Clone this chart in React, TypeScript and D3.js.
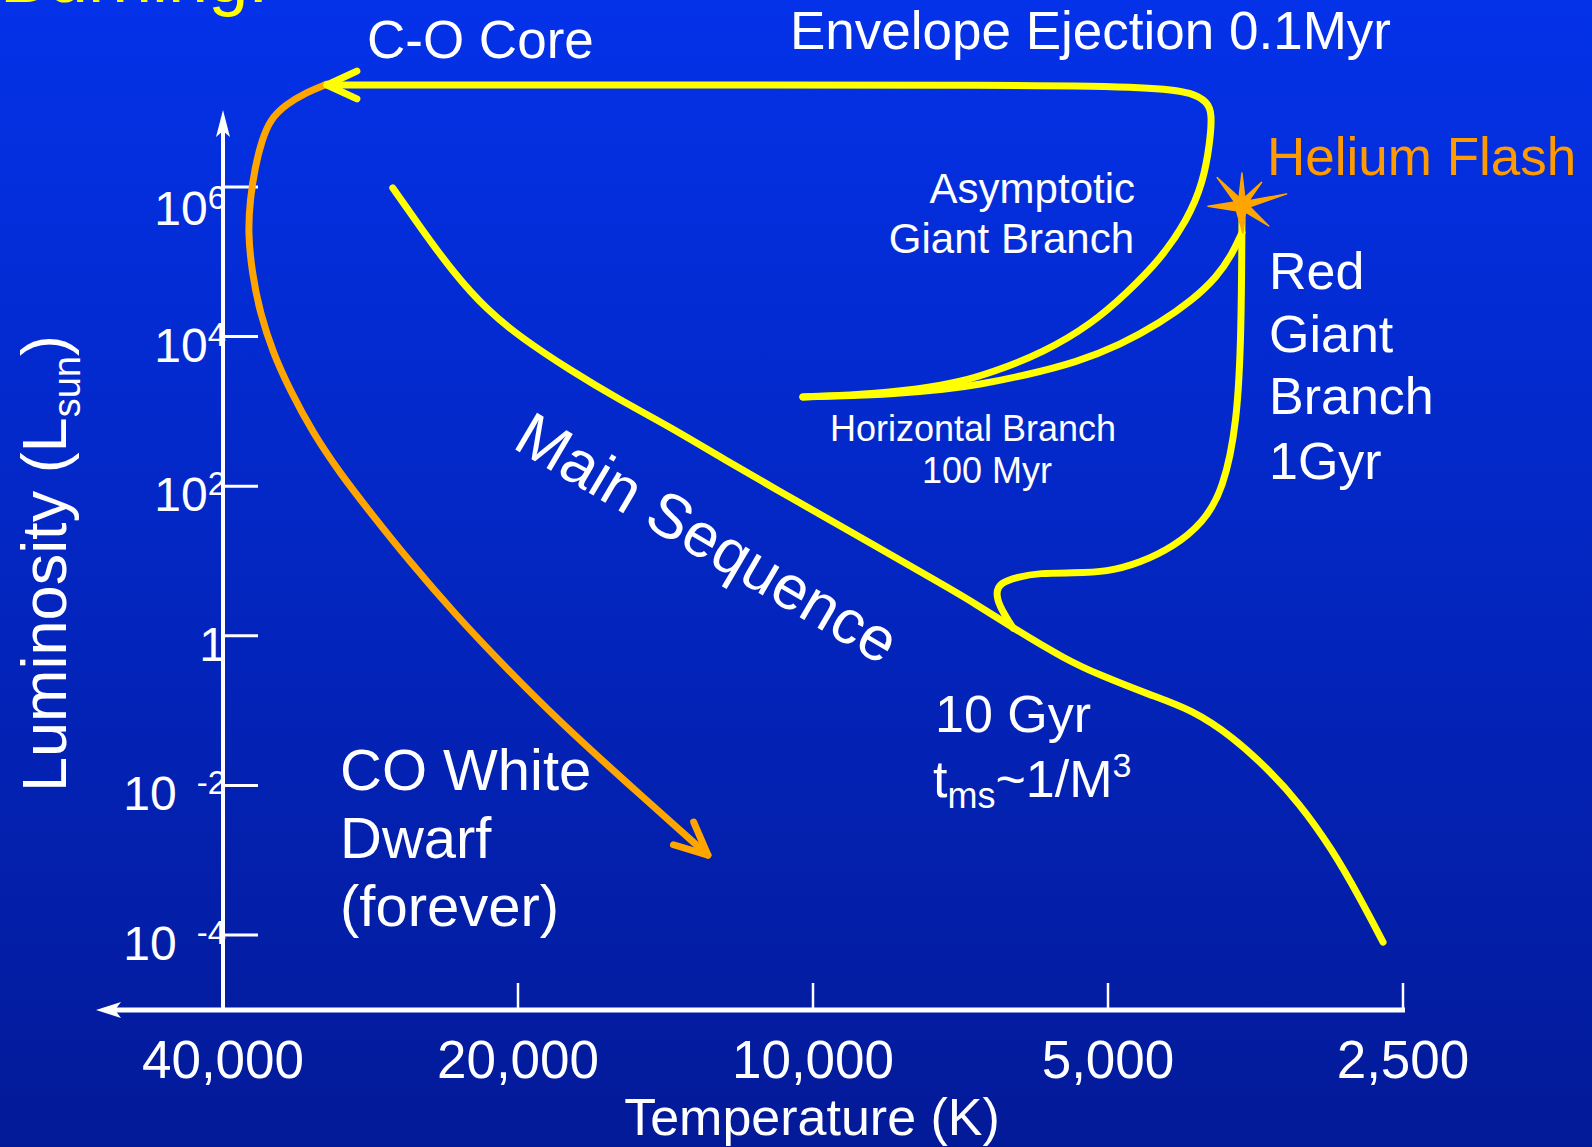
import * as d3 from 'd3';

const W = 1592;
const H = 1147;

// temperature axis (K), hot on the left
const tempTicks  = [40000, 20000, 10000, 5000, 2500];
const tempLabels = ['40,000', '20,000', '10,000', '5,000', '2,500'];

// luminosity axis (L_sun)
const lumTicks = [1e6, 1e4, 1e2, 1, 1e-2, 1e-4];
const lumBase  = ['10', '10', '10', '1', '10', '10'];
const lumExp   = ['6', '4', '2', '', '-2', '-4'];

// main sequence
const msTemp = [26840, 25170, 23270, 21510, 19900, 17710, 15740, 13990, 12440, 10310, 8740, 7420,
  6870, 6250, 5510, 5100, 4530, 4100, 3730, 3450, 3190, 2950, 2770, 2620];
const msLum = [9.7e5, 2.92e5, 7.08e4, 2.27e4, 9890, 3570, 1420, 618, 245, 59.6, 17.4, 5.08,
  2.83, 1.27, 0.474, 0.299, 0.162, 0.102, 0.0444, 0.0176, 0.00582, 0.00137, 3.22e-4, 8.05e-5];

// turn-off hook + red giant branch up to the helium flash
const rgbTemp = [6250, 6325, 6445, 6510, 6445, 6190, 5870, 5430, 5010, 4640, 4290, 4000, 3815, 3690, 3655, 3650];
const rgbLum  = [1.27, 1.63, 2.43, 3.73, 5.08, 6.11, 6.92, 6.92, 7.13, 9.4, 15.4, 32.2, 89, 700, 1.22e4, 3.62e5];

// helium flash -> horizontal branch
const hbTemp = [3650, 3730, 3870, 4100, 4425, 4860, 5375, 6050, 6805, 7300, 8290, 9320, 10240];
const hbLum  = [2.43e5, 1.31e5, 6.26e4, 3.08e4, 1.52e4, 7730, 4570, 3070, 2250, 1990, 1710, 1610, 1560];

// asymptotic giant branch + envelope ejection
const agbTemp = [10240, 8960, 7775, 7080, 6550, 5825, 5180, 4785, 4425, 4150, 4000, 3935, 3915, 3960,
  4100, 4425, 6445, 13040, 31330];
const agbLum = [1560, 1660, 1990, 2470, 3365, 6040, 1.52e4, 3.83e4, 1.06e5, 3.62e5, 1.13e6, 3.87e6,
  9.75e6, 1.37e7, 1.81e7, 2.17e7, 2.31e7, 2.31e7, 2.31e7];

// C-O core -> white dwarf cooling
const wdTemp = [31330, 32840, 34580, 35820, 36500, 37100, 37540, 37720, 37360, 36670, 35560, 34180,
  32380, 30390, 28320, 25780, 23190, 20620, 18120, 15480, 12800];
const wdLum = [2.38e7, 1.86e7, 1.25e7, 7.87e6, 4.25e6, 1.85e6, 6.7e5, 2.43e5, 7.08e4, 2.07e4, 6040, 1930,
  514, 150, 45.2, 9.7, 1.95, 0.383, 0.0705, 0.01076, 0.00117];

// helium flash location
const flashTemp = 3650;
const flashLum  = 5.74e5;

const FONT = 'Liberation Sans, Arial, Helvetica, sans-serif';
const YELLOW = '#ffff00';
const ORANGE = '#ffa500';

export default function App() {
  const x = d3.scaleLog().domain([40000, 2500]).range([223, 1403]);
  const y = d3.scaleLog().domain([1e-4, 1e6]).range([935, 187]);

  const line = d3.line<[number, number]>()
    .x(d => x(d[0]))
    .y(d => y(d[1]))
    .curve(d3.curveBasis);

  const pts = (t: number[], l: number[]) => t.map((v, i) => [v, l[i]] as [number, number]);

  const arrowHead = (t: number[], l: number[], len: number, spread: number) => {
    const n = t.length;
    const x1 = x(t[n - 1]), y1 = y(l[n - 1]);
    const x0 = x(t[n - 2]), y0 = y(l[n - 2]);
    const a = Math.atan2(y1 - y0, x1 - x0);
    const s = (spread * Math.PI) / 180;
    return `M${x1 - len * Math.cos(a - s)},${y1 - len * Math.sin(a - s)}L${x1},${y1}` +
      `L${x1 - len * Math.cos(a + s)},${y1 - len * Math.sin(a + s)}`;
  };

  // irregular star for the flash
  const sx = x(flashTemp), sy = y(flashLum);
  const rays: [number, number][] = [[-132, 37], [-90, 32], [-49, 30], [-14, 46], [38, 34], [88, 28], [178, 34]];
  const starPts: [number, number][] = [];
  rays.forEach((r, i) => {
    const next = rays[(i + 1) % rays.length];
    let a2 = next[0];
    if (a2 < r[0]) a2 += 360;
    const mid = (r[0] + a2) / 2;
    starPts.push([sx + r[1] * Math.cos((r[0] * Math.PI) / 180), sy + r[1] * Math.sin((r[0] * Math.PI) / 180)]);
    starPts.push([sx + 8 * Math.cos((mid * Math.PI) / 180), sy + 8 * Math.sin((mid * Math.PI) / 180)]);
  });
  const star = d3.line().curve(d3.curveLinearClosed)(starPts) ?? '';

  const axisY = x(40000);
  const axisX = 1010;

  return (
    <svg width={W} height={H} style={{ position: 'absolute', left: 0, top: 0, display: 'block' }}
      fontFamily={FONT}>
      <defs>
        <linearGradient id="bg" x1="0" y1="0" x2="0" y2="1">
          <stop offset="0" stopColor="#0432e9" />
          <stop offset="1" stopColor="#031a98" />
        </linearGradient>
      </defs>
      <rect width={W} height={H} fill="url(#bg)" />

      <text x={0} y={2} fontSize={72} fill={YELLOW}>Burning:</text>

      {/* axes */}
      <line x1={axisY} y1={axisX} x2={axisY} y2={128} stroke="#fff" strokeWidth={4} />
      <path d={`M${axisY},110L${axisY - 7},137L${axisY},131L${axisY + 7},137Z`} fill="#fff" />
      <line x1={1405} y1={axisX} x2={112} y2={axisX} stroke="#fff" strokeWidth={5} />
      <path d={`M96,${axisX}L121,${axisX - 8}L115,${axisX}L121,${axisX + 8}Z`} fill="#fff" />

      {tempTicks.map((t, i) => (
        <g key={t}>
          <line x1={x(t)} x2={x(t)} y1={983} y2={axisX} stroke="#fff" strokeWidth={2.5} />
          <text x={x(t)} y={1078} fontSize={53} fill="#fff" textAnchor="middle">{tempLabels[i]}</text>
        </g>
      ))}
      <text x={812} y={1135} fontSize={52} fill="#fff" textAnchor="middle">Temperature (K)</text>

      {lumTicks.map((l, i) => (
        <g key={l}>
          <line x1={axisY} x2={258} y1={y(l)} y2={y(l)} stroke="#fff" strokeWidth={3} />
          <text x={226} y={y(l) + (i === 0 ? 38 : 25)} fontSize={48} fill="#fff" textAnchor="end">
            {lumBase[i]}
            {lumExp[i] && (
              <tspan fontSize={33} dy={-16} dx={lumExp[i].startsWith('-') ? 20 : 0}>{lumExp[i]}</tspan>
            )}
          </text>
        </g>
      ))}

      <text transform="translate(66,792) rotate(-90)" fontSize={63} fill="#fff">
        Luminosity (L<tspan fontSize={38} dy={14}>sun</tspan><tspan dy={-14}>)</tspan>
      </text>

      {/* tracks */}
      <g fill="none" strokeLinecap="round" strokeLinejoin="round" strokeWidth={7}>
        <path d={line(pts(wdTemp, wdLum)) ?? ''} stroke={ORANGE} />
        <path d={arrowHead(wdTemp, wdLum, 36, 25)} stroke={ORANGE} />
        <path d={line(pts(msTemp, msLum)) ?? ''} stroke={YELLOW} />
        <path d={line(pts(rgbTemp, rgbLum)) ?? ''} stroke={YELLOW} />
        <path d={line(pts(hbTemp, hbLum)) ?? ''} stroke={YELLOW} />
        <path d={line(pts(agbTemp, agbLum)) ?? ''} stroke={YELLOW} />
        <path d={arrowHead(agbTemp, agbLum, 33, 25)} stroke={YELLOW} />
      </g>
      <path d={star} fill={ORANGE} stroke={ORANGE} strokeWidth={1.5} strokeLinejoin="round" />

      {/* labels */}
      <g fill="#fff">
        <text x={367} y={58} fontSize={53}>C-O Core</text>
        <text x={790} y={49} fontSize={53}>Envelope Ejection 0.1Myr</text>
        <text x={1135} y={203} fontSize={42} textAnchor="end">Asymptotic</text>
        <text x={1134} y={253} fontSize={42} textAnchor="end">Giant Branch</text>
        <text x={1269} y={289} fontSize={52}>Red</text>
        <text x={1269} y={352} fontSize={52}>Giant</text>
        <text x={1269} y={414} fontSize={52}>Branch</text>
        <text x={1269} y={479} fontSize={52}>1Gyr</text>
        <text x={973} y={441} fontSize={36} textAnchor="middle">Horizontal Branch</text>
        <text x={987} y={483} fontSize={36} textAnchor="middle">100 Myr</text>
        <text transform="translate(511,447) rotate(30.5)" fontSize={62}>Main Sequence</text>
        <text x={935} y={732} fontSize={52}>10 Gyr</text>
        <text x={933} y={797} fontSize={52}>
          t<tspan fontSize={36} dy={11}>ms</tspan><tspan dy={-11}>~1/M</tspan><tspan fontSize={34} dy={-20}>3</tspan>
        </text>
        <text x={340} y={790} fontSize={58}>CO White</text>
        <text x={340} y={858} fontSize={58}>Dwarf</text>
        <text x={340} y={926} fontSize={58}>(forever)</text>
      </g>
      <text x={1267} y={175} fontSize={53} fill="#ff9a00">Helium Flash</text>
    </svg>
  );
}
